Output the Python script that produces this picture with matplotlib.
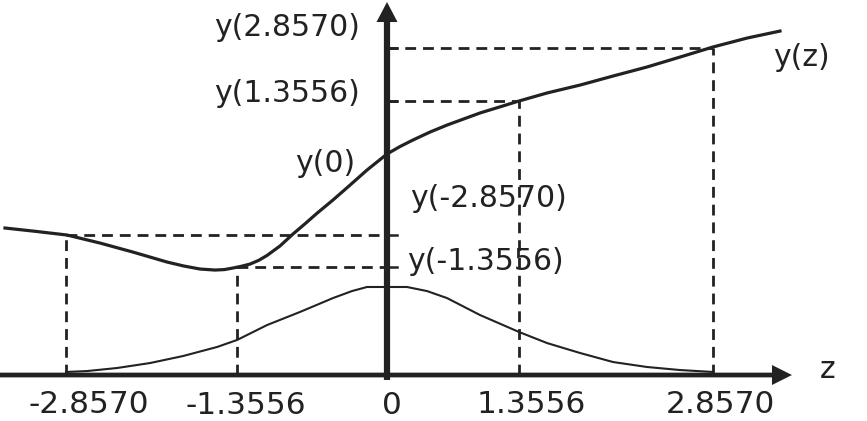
import numpy as np
import matplotlib
matplotlib.use("Agg")
import matplotlib.pyplot as plt
from matplotlib.patches import FancyArrow

# main curve y(z)
curve_z = [-3.381, -3.133, -2.832, -2.540, -2.248, -1.947, -1.800, -1.655, -1.522,
           -1.440, -1.363, -1.290, -1.212, -1.135, -1.062, -0.947, -0.832, -0.726,
           -0.619, -0.478, -0.327, -0.177, 0.0, 0.115, 0.230, 0.380, 0.531, 0.823,
           1.168, 1.416, 1.708, 2.000, 2.301, 2.593, 2.885, 3.186, 3.478]
curve_y = [1.301, 1.274, 1.239, 1.168, 1.088, 1.000, 0.965, 0.938, 0.929,
           0.933, 0.947, 0.962, 0.982, 1.015, 1.058, 1.142, 1.248, 1.338,
           1.432, 1.549, 1.681, 1.814, 1.956, 2.022, 2.080, 2.150, 2.212, 2.319,
           2.425, 2.496, 2.566, 2.646, 2.726, 2.814, 2.903, 2.982, 3.044]

# bell curve along the z axis
bell_z = [-2.841, -2.655, -2.389, -2.097, -1.805, -1.504, -1.327, -1.062, -0.770,
          -0.478, -0.310, -0.177, 0.177, 0.354, 0.531, 0.823, 1.168, 1.416,
          1.708, 2.000, 2.301, 2.593, 2.885]
bell_y = [0.027, 0.035, 0.062, 0.106, 0.168, 0.248, 0.310, 0.442, 0.558,
          0.681, 0.743, 0.779, 0.779, 0.743, 0.681, 0.531, 0.381, 0.283,
          0.195, 0.115, 0.071, 0.044, 0.027]

# drop lines: where each point sits on the drawing
drop_z = [-2.841, -1.327, 1.168, 2.885]
drop_y = [1.243, 0.956, 2.425, 2.894]

# x labels and their positions
xtick_labels = ["-2.8570", "-1.3556", "0", "1.3556", "2.8570"]
xtick_pos = [-2.637, -1.248, 0.044, 1.274, 2.947]
xtick_base = [-0.338, -0.344, -0.348, -0.335, -0.335]

# y labels (right-aligned on the left, left-aligned on the right)
ylab_left = ["y(2.8570)", "y(1.3556)", "y(0)"]
ylab_left_pos = [(-0.239, 3.080), (-0.239, 2.491), (-0.283, 1.872)]
ylab_right = ["y(-2.8570)", "y(-1.3556)"]
ylab_right_pos = [(0.204, 1.562), (0.177, 1.004)]

ink = "#222222"

fig = plt.figure(figsize=(8.67, 4.21), dpi=100)
ax = fig.add_axes([0, 0, 1, 1])
ax.set_xlim(-3.425, 4.248)
ax.set_ylim(-0.407, 3.319)
ax.axis("off")

dash = dict(color=ink, lw=2.0, dashes=(3.9, 2.5))

# dashed guides
for z, y in zip(drop_z, drop_y):
    ax.plot([z, z], [0, y], **dash)
    if z < 0:
        ax.plot([z, 0.0], [y, y], **dash)
    else:
        ax.plot([0.0, z], [y, y], **dash)
    ax.plot([0, 0.09], [y, y], color=ink, lw=1.8)

# curves
ax.plot(curve_z, curve_y, color=ink, lw=2.3, solid_joinstyle="round")
ax.plot(bell_z, bell_y, color=ink, lw=1.5, solid_joinstyle="round")

# axes with arrow heads
ax.add_patch(FancyArrow(-3.425, 0, 3.584 + 3.425, 0, width=0.042,
                        head_width=0.177, head_length=0.177,
                        length_includes_head=True, color=ink, lw=0))
ax.add_patch(FancyArrow(0, -0.044, 0, 3.301 + 0.044, width=0.055,
                        head_width=0.186, head_length=0.177,
                        length_includes_head=True, color=ink, lw=0))

# text
fs = 21.5
for s, x, b in zip(xtick_labels, xtick_pos, xtick_base):
    ax.text(x, b, s, ha="center", va="baseline", fontsize=22.5, color=ink)
for s, (x, y) in zip(ylab_left, ylab_left_pos):
    ax.text(x, y, s, ha="right", va="center", fontsize=fs, color=ink)
for s, (x, y) in zip(ylab_right, ylab_right_pos):
    ax.text(x, y, s, ha="left", va="center", fontsize=fs, color=ink)
ax.text(3.416, 2.814, "y(z)", ha="left", va="center", fontsize=fs, color=ink)
ax.text(3.903, 0.053, "z", ha="center", va="center", fontsize=fs, color=ink)

fig.savefig("out.png", dpi=100)
